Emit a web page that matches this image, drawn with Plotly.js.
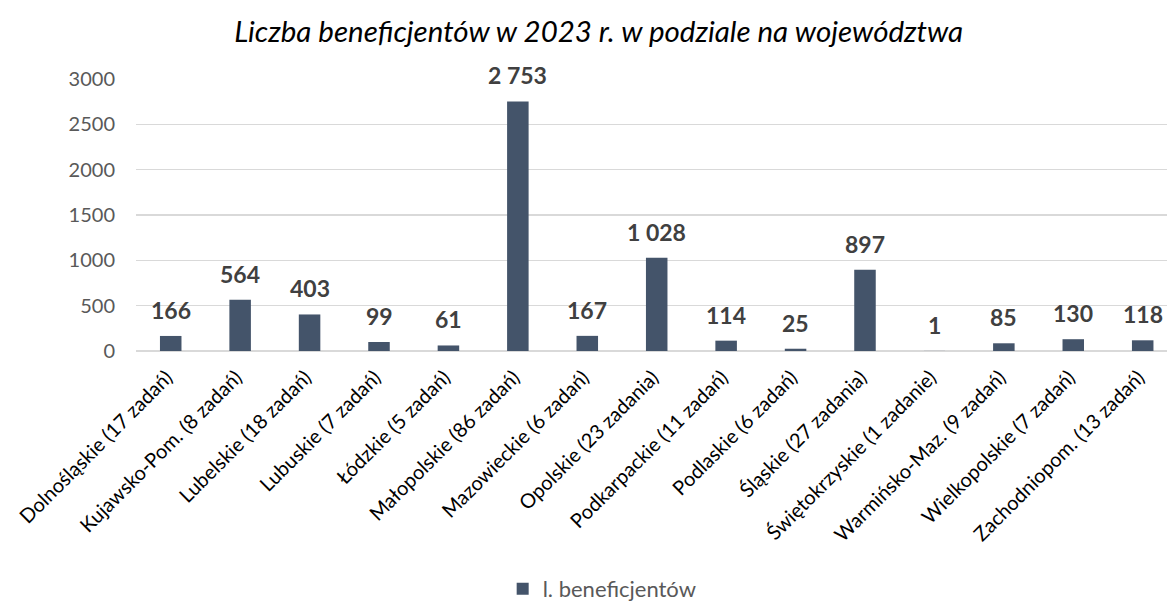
<!DOCTYPE html>
<html>
<head>
<meta charset="utf-8">
<script src="https://cdn.plot.ly/plotly-3.0.1.min.js"></script>
<style>html,body{margin:0;padding:0;background:#fff;}#chart{width:1167px;height:610px;}</style>
</head>
<body>
<div id="chart"></div>
<script>
const categories = [
  "Dolnośląskie (17 zadań)",
  "Kujawsko-Pom. (8 zadań)",
  "Lubelskie (18 zadań)",
  "Lubuskie (7 zadań)",
  "Łódzkie (5 zadań)",
  "Małopolskie (86 zadań)",
  "Mazowieckie (6 zadań)",
  "Opolskie (23 zadania)",
  "Podkarpackie (11 zadań)",
  "Podlaskie (6 zadań)",
  "Śląskie (27 zadania)",
  "Świętokrzyskie (1 zadanie)",
  "Warmińsko-Maz. (9 zadań)",
  "Wielkopolskie (7 zadań)",
  "Zachodniopom. (13 zadań)"
];
const beneficiaries = [166, 564, 403, 99, 61, 2753, 167, 1028, 114, 25, 897, 1, 85, 130, 118];
const yTicks = [0, 500, 1000, 1500, 2000, 2500, 3000];
const seriesName = "l. beneficjentów";
const titleText = "Liczba beneficjentów w 2023 r. w podziale na województwa";

function fmt(v) { return String(v).replace(/\B(?=(\d{3})+(?!\d))/g, " "); }

const trace = {
  type: "bar",
  x: categories,
  y: beneficiaries,
  name: seriesName,
  marker: { color: "#44546A" },
  showlegend: true,
  hoverinfo: "x+y"
};

const annotations = beneficiaries.map((v, i) => ({
  x: categories[i], y: v, xref: "x", yref: "y",
  text: fmt(v), showarrow: false, yanchor: "bottom", yshift: 10,
  font: { family: "Lato, sans-serif", size: 23, color: "#404040", weight: 700 }
}));

const layout = {
  width: 1167, height: 610,
  paper_bgcolor: "#fff", plot_bgcolor: "#fff",
  margin: { l: 136, r: 0, t: 79, b: 259 },
  title: {
    text: titleText,
    font: { family: "Lato, sans-serif", size: 29.5, color: "#000", style: "italic" },
    x: 0.513, xanchor: "center", xref: "container",
    y: 0.948, yanchor: "middle", yref: "container"
  },
  bargap: 0.69,
  xaxis: {
    type: "category",
    range: [-0.5, 14.35],
    tickangle: -45,
    tickfont: { family: "Lato, sans-serif", size: 20, color: "#000" },
    showgrid: false, showline: false, ticks: "", zeroline: false,
    ticklabelstandoff: 10, ticklabelshift: -4
  },
  yaxis: {
    range: [0, 3000],
    tickvals: yTicks,
    ticktext: yTicks.map(String),
    tickfont: { family: "Lato, sans-serif", size: 20, color: "#595959" },
    gridcolor: "#d9d9d9", gridwidth: 1.5,
    zeroline: true, zerolinecolor: "#d9d9d9", zerolinewidth: 1.5,
    ticks: "", ticklabelstandoff: 20,
    showline: false
  },
  showlegend: true,
  legend: {
    orientation: "h",
    x: 0.516, xanchor: "center", xref: "container",
    y: 0, yanchor: "bottom", yref: "container",
    font: { family: "Lato, sans-serif", size: 22, color: "#595959" },
    itemwidth: 30
  },
  annotations: annotations
};

Plotly.newPlot("chart", [trace], layout, { displayModeBar: false, staticPlot: true });
</script>
</body>
</html>
